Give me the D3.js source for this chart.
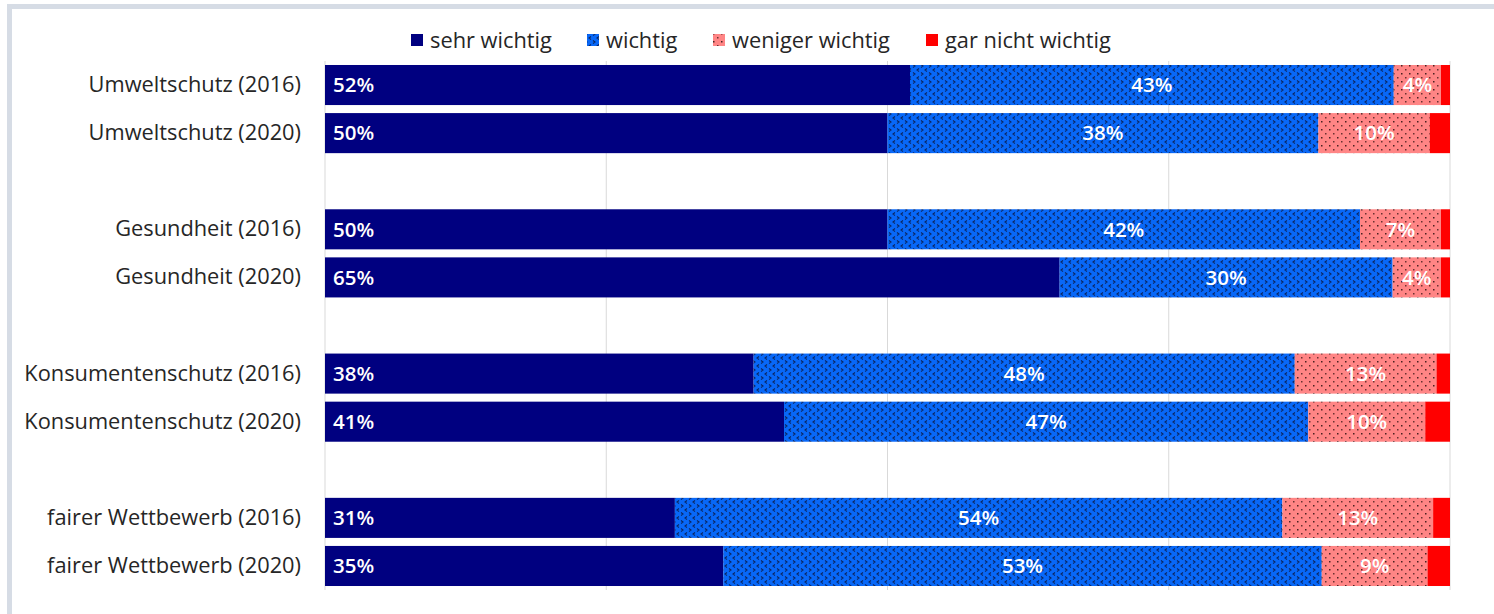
<!DOCTYPE html>
<html><head><meta charset="utf-8">
<script src="https://cdn.jsdelivr.net/npm/d3@7"></script>
<style>
html,body{margin:0;padding:0;background:#fff;}
svg{display:block;}
text{font-family:"Open Sans","Noto Sans",sans-serif;}
</style></head>
<body>
<svg id="chart" width="1494" height="614"></svg>
<script>
// ---- data ----
const categories = [
  "Umweltschutz (2016)", "Umweltschutz (2020)", "",
  "Gesundheit (2016)", "Gesundheit (2020)", " ",
  "Konsumentenschutz (2016)", "Konsumentenschutz (2020)", "  ",
  "fairer Wettbewerb (2016)", "fairer Wettbewerb (2020)"
];
const seriesNames = ["sehr wichtig", "wichtig", "weniger wichtig", "gar nicht wichtig"];
const sehrWichtig    = [52.0, 50.0, null, 50.0, 65.3, null, 38.1, 40.8, null, 31.1, 35.4];
const wichtig        = [43.0, 38.3, null, 42.0, 29.6, null, 48.1, 46.6, null, 54.0, 53.2];
const wenigerWichtig = [4.2, 9.9, null, 7.2, 4.3, null, 12.6, 10.4, null, 13.4, 9.4];
const garNichtWichtig= [0.8, 1.8, null, 0.8, 0.8, null, 1.2, 2.2, null, 1.5, 2.0];
const xTicks = [0, 25, 50, 75, 100];

const seriesValues = [sehrWichtig, wichtig, wenigerWichtig, garNichtWichtig];

const svg = d3.select("#chart");
const defs = svg.append("defs");

// patterns
const pBlue = defs.append("pattern").attr("id","pBlue").attr("patternUnits","userSpaceOnUse")
  .attr("width",8).attr("height",8);
pBlue.append("rect").attr("width",8).attr("height",8).attr("fill","#0868f8");
pBlue.append("path").attr("d","M1,0.5 L3,2 L1,3.5").attr("fill","none").attr("stroke","#0a2560").attr("stroke-width",1.1);
pBlue.append("path").attr("d","M7,4.5 L5,6 L7,7.5").attr("fill","none").attr("stroke","#0a2560").attr("stroke-width",1.1);

const pPink = defs.append("pattern").attr("id","pPink").attr("patternUnits","userSpaceOnUse")
  .attr("width",8).attr("height",8);
pPink.append("rect").attr("width",8).attr("height",8).attr("fill","#ff8585");
pPink.append("rect").attr("x",1).attr("y",1).attr("width",1.5).attr("height",1.5).attr("fill","#4a2020");
pPink.append("rect").attr("x",5).attr("y",5).attr("width",1.5).attr("height",1.5).attr("fill","#6a3030");

const fills = ["#000080", "url(#pBlue)", "url(#pPink)", "#ff0000"];

// frame
svg.append("rect").attr("x",9.5).attr("y",6.5).attr("width",1600).attr("height",700)
  .attr("fill","none").attr("stroke","#d6dce5").attr("stroke-width",5);

const margin = {left:325, right:44, top:61, bottom:24};
const W = 1494, H = 614;
const x = d3.scaleLinear().domain([0,100]).range([margin.left, W - margin.right]);
const y = d3.scaleBand().domain(categories).range([margin.top, H - margin.bottom]).paddingInner(0.167).paddingOuter(0.083);

// gridlines
svg.append("g").selectAll("line").data(xTicks).join("line")
  .attr("x1", d => x(d)).attr("x2", d => x(d))
  .attr("y1", margin.top).attr("y2", H - margin.bottom)
  .attr("stroke","#d9d9d9").attr("stroke-width",1);

// stacked data
const rows = categories.map((c,i) => ({cat:c, vals: seriesValues.map(s => s[i])}))
  .filter(r => r.vals[0] != null);

const stackData = rows.map(r => {
  const o = {cat: r.cat};
  seriesNames.forEach((n,k) => o[n] = r.vals[k]);
  return o;
});
const stack = d3.stack().keys(seriesNames)(stackData);

const gBars = svg.append("g");
stack.forEach((layer, k) => {
  gBars.append("g").selectAll("rect").data(layer).join("rect")
    .attr("x", d => x(d[0]))
    .attr("width", d => x(d[1]) - x(d[0]))
    .attr("y", d => y(d.data.cat))
    .attr("height", y.bandwidth())
    .attr("fill", fills[k]);
});

// labels
stack.forEach((layer, k) => {
  if (k === 3) return;
  svg.append("g").selectAll("text").data(layer).join("text")
    .attr("x", d => k === 0 ? x(d[0]) + 8 : (x(d[0]) + x(d[1]))/2)
    .attr("y", d => y(d.data.cat) + y.bandwidth()/2)
    .attr("dy","0.36em")
    .attr("text-anchor", k === 0 ? "start" : "middle")
    .attr("fill","#fff")
    .attr("font-size", 20.5)
    .attr("font-weight", 600)
    .text(d => Math.round(d[1]-d[0]) + "%");
});

// y axis labels
const yAxis = d3.axisLeft(y).tickSize(0).tickPadding(24)
  .tickFormat(d => d.trim());
const gy = svg.append("g").attr("transform",`translate(${margin.left},0)`).call(yAxis);
gy.select(".domain").remove();
gy.selectAll("text").attr("font-size",21.8).attr("fill","#262626")
  .attr("font-family",'"Open Sans","Noto Sans",sans-serif');

// legend
const legendX = [411, 587, 713, 926];
const lg = svg.append("g");
seriesNames.forEach((n,k) => {
  lg.append("rect").attr("x", legendX[k]).attr("y", 34).attr("width", 12).attr("height", 12)
    .attr("fill", fills[k]);
  lg.append("text").attr("x", legendX[k] + 19).attr("y", 40).attr("dy","0.35em")
    .attr("font-size",21.8).attr("fill","#262626").text(n);
});
</script>
</body></html>
